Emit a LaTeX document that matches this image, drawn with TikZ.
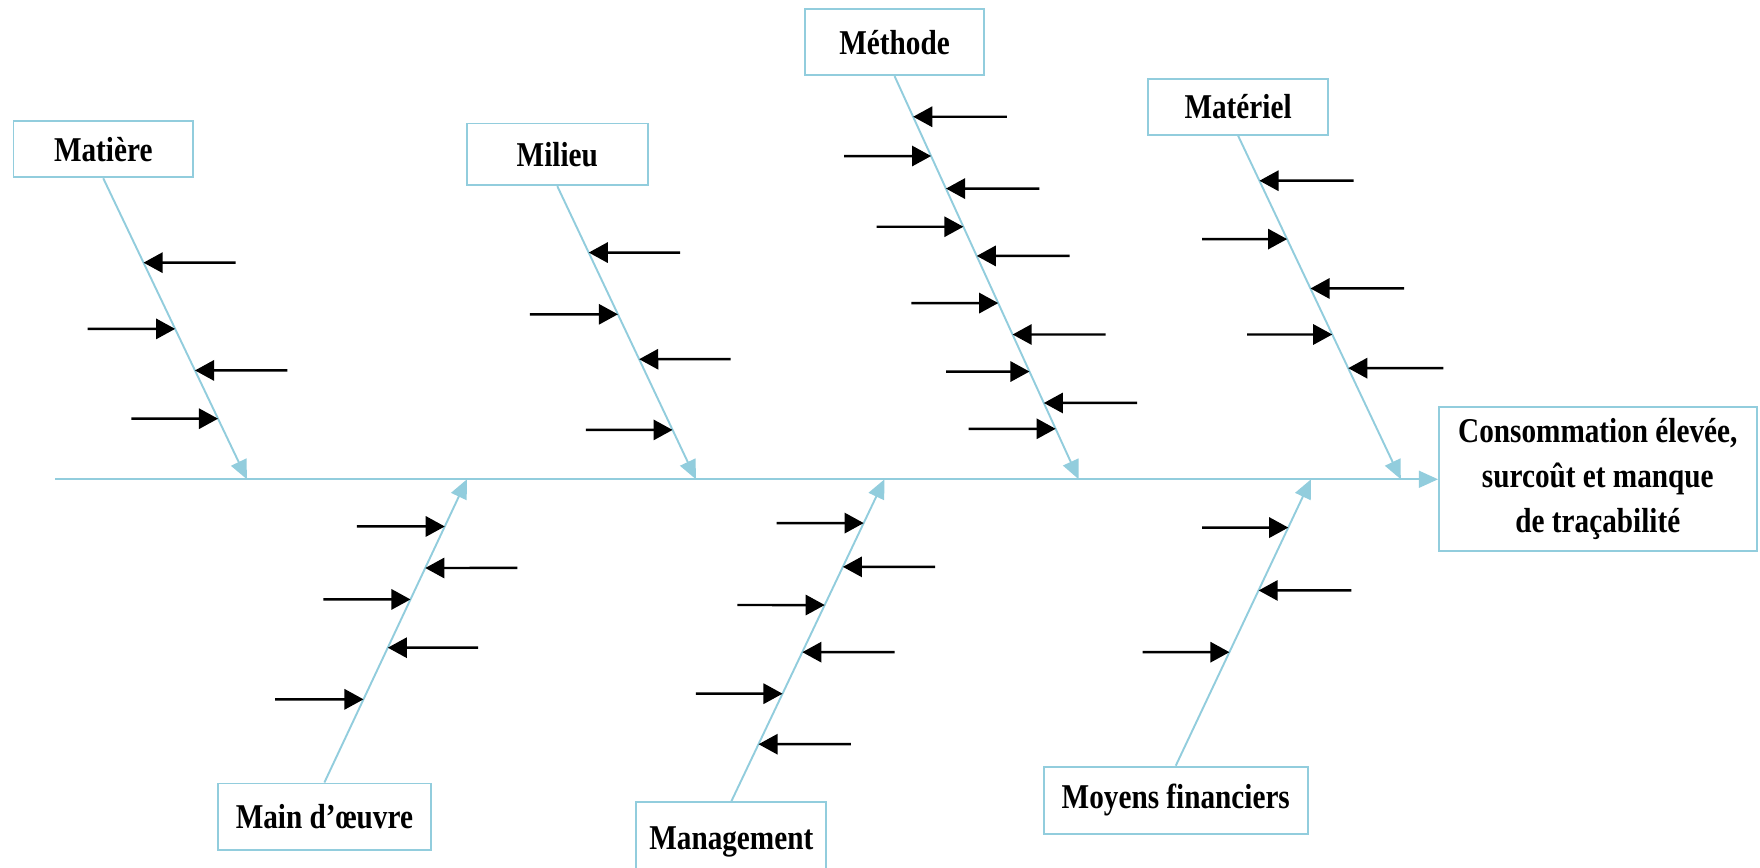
\documentclass[tikz,border=0pt]{standalone}
\usepackage{fontspec}
\setmainfont{Liberation Serif}[FakeStretch=0.84]
\usetikzlibrary{arrows.meta}
\definecolor{bonecol}{RGB}{146,205,221}
\tikzset{
  catbox/.style={draw=bonecol, line width=1.7bp, fill=white, inner sep=0pt,
    font=\fontsize{31bp}{40bp}\selectfont\bfseries, align=center},
  bone/.style={draw=bonecol, line width=1.7bp, -{Triangle[length=17bp,width=15bp]}},
  twigarrow/.style={draw=black, line width=2.2bp, -{Triangle[length=17bp,width=18bp]}},
}
% a cause arrow: from (x,y) horizontally onto the bone #1 (between #1T and #1B)
\newcommand\twig[3]{\draw[twigarrow] (#3,#2) -- (intersection of #1T--#1B and 0,#2--100,#2);}
\begin{document}
\begin{tikzpicture}[x=1bp,y=-1bp]
\clip (0,0) rectangle (1568,773);
\fill[white] (0,0) rectangle (1568,773);

% effect box and spine
\node[catbox, minimum width=283bp, minimum height=128bp] (effet) at (1423.5,427)
  {Consommation élevée,\\surcoût et manque\\de traçabilité};
\coordinate (tail) at (49,427);
\draw[bone] (tail) -- (effet.west);

% category boxes
\node[catbox, minimum width=160bp, minimum height=50bp] (matiere) at (92,133) {Matière};
\node[catbox, minimum width=161bp, minimum height=55bp] (milieu) at (496.5,137.5) {Milieu};
\node[catbox, minimum width=160bp, minimum height=59bp] (methode) at (797,37.5) {Méthode};
\node[catbox, minimum width=160bp, minimum height=50bp] (materiel) at (1103,95) {Matériel};
\node[catbox, minimum width=190bp, minimum height=59bp] (main) at (289,727.5) {Main d’œuvre};
\node[catbox, minimum width=169bp, minimum height=70bp, anchor=north] (manag) at (651.5,714) {Management};
\node[catbox, minimum width=235bp, minimum height=60bp] (moyens) at (1047.5,713) {Moyens financiers};

% bone ends on the spine
\coordinate (matT) at (matiere.south);  \coordinate (matB) at (220,427);
\coordinate (milT) at (milieu.south);   \coordinate (milB) at (620,427);
\coordinate (metT) at (methode.south);  \coordinate (metB) at (961,427);
\coordinate (malT) at (materiel.south); \coordinate (malB) at (1248,427);
\coordinate (moT) at (main.north);      \coordinate (moB) at (416,427);
\coordinate (mgT) at (manag.north);     \coordinate (mgB) at (788,427);
\coordinate (mfT) at (moyens.north);    \coordinate (mfB) at (1168,427);

% bones
\draw[bone] (matT) -- (matB);
\draw[bone] (milT) -- (milB);
\draw[bone] (metT) -- (metB);
\draw[bone] (malT) -- (malB);
\draw[bone] (moT) -- (moB);
\draw[bone] (mgT) -- (mgB);
\draw[bone] (mfT) -- (mfB);

% causes: Matière
\twig{mat}{234}{210}
\twig{mat}{293}{78}
\twig{mat}{330}{256}
\twig{mat}{373}{117}
% causes: Milieu
\twig{mil}{225}{606}
\twig{mil}{280}{472}
\twig{mil}{320}{651}
\twig{mil}{383}{522}
% causes: Méthode
\twig{met}{104}{897}
\twig{met}{139}{752}
\twig{met}{168}{926}
\twig{met}{202}{781}
\twig{met}{228}{953}
\twig{met}{270}{812}
\twig{met}{298}{985}
\twig{met}{331}{843}
\twig{met}{359}{1013}
\twig{met}{382}{863}
% causes: Matériel
\twig{mal}{161}{1206}
\twig{mal}{213}{1071}
\twig{mal}{257}{1251}
\twig{mal}{298}{1111}
\twig{mal}{328}{1286}
% causes: Main d'oeuvre
\twig{mo}{469}{318}
\twig{mo}{506}{461}
\twig{mo}{534}{288}
\twig{mo}{577}{426}
\twig{mo}{623}{245}
% causes: Management
\twig{mg}{466}{692}
\twig{mg}{505}{833}
\twig{mg}{539}{657}
\twig{mg}{581}{797}
\twig{mg}{618}{620}
\twig{mg}{663}{758}
% causes: Moyens financiers
\twig{mf}{470}{1071}
\twig{mf}{526}{1204}
\twig{mf}{581}{1018}
\end{tikzpicture}
\end{document}
